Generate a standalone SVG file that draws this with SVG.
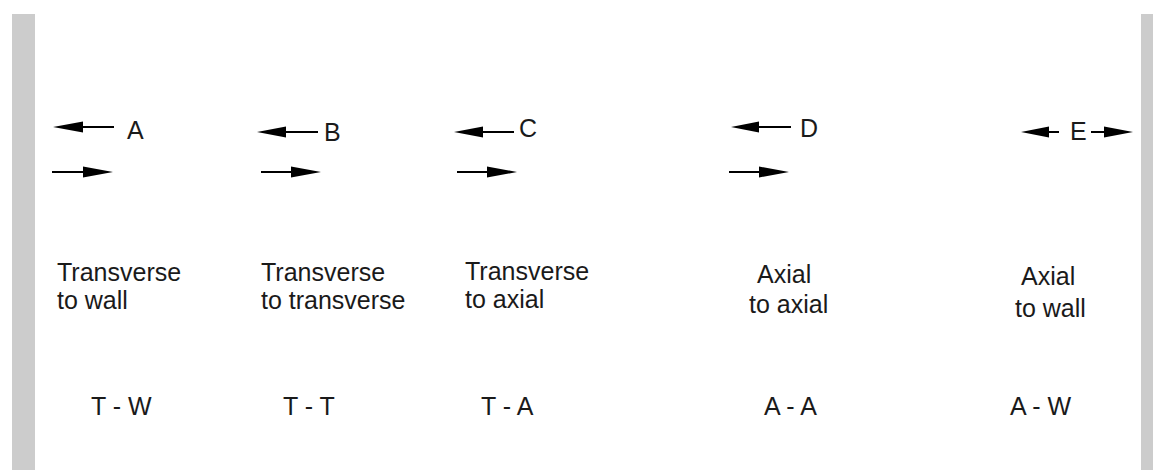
<svg xmlns="http://www.w3.org/2000/svg" width="1153" height="470" viewBox="0 0 1153 470">
<style>
.t{font-family:"Liberation Sans",Arial,sans-serif;font-size:25px;fill:#1a1a1a}
.ln{stroke:#000;stroke-width:2;fill:none}
.hd{fill:#000}
.wall{fill:#cccccc}
</style>
<rect width="1153" height="470" fill="#fff"/>
<g id="walls">
<rect class="wall" x="12" y="14" width="23" height="456"/>
<rect class="wall" x="1141" y="14" width="12" height="456"/>
</g>
<g id="connectors">
<line class="ln" x1="80" y1="127" x2="114" y2="127"/>
<polygon class="hd" points="53,127 83,121.5 83,132.5"/>
<line class="ln" x1="52" y1="172" x2="86" y2="172"/>
<polygon class="hd" points="113,172 83,166.5 83,177.5"/>
<line class="ln" x1="283" y1="132" x2="318" y2="132"/>
<polygon class="hd" points="257,132 286,126.5 286,137.5"/>
<line class="ln" x1="261" y1="172" x2="294" y2="172"/>
<polygon class="hd" points="321,172 291,166.5 291,177.5"/>
<line class="ln" x1="480" y1="132" x2="514" y2="132"/>
<polygon class="hd" points="454,132 483,126.5 483,137.5"/>
<line class="ln" x1="457" y1="172" x2="490" y2="172"/>
<polygon class="hd" points="517,172 487,166.5 487,177.5"/>
<line class="ln" x1="756" y1="127" x2="791" y2="127"/>
<polygon class="hd" points="731,127 759,121.5 759,132.5"/>
<line class="ln" x1="729" y1="172" x2="762" y2="172"/>
<polygon class="hd" points="789,172 759,166.5 759,177.5"/>
<line class="ln" x1="1046" y1="132" x2="1059" y2="132"/>
<polygon class="hd" points="1021,132 1049,126.5 1049,137.5"/>
<line class="ln" x1="1091" y1="132" x2="1107" y2="132"/>
<polygon class="hd" points="1133,132 1104,126.5 1104,137.5"/>
</g>
<g id="node-tw">
<text class="t" x="127" y="139">A</text>
<text class="t" x="57" y="281">Transverse</text>
<text class="t" x="57" y="309">to wall</text>
<text class="t" x="91" y="415">T - W</text>
</g>
<g id="node-tt">
<text class="t" x="324" y="141">B</text>
<text class="t" x="261" y="281">Transverse</text>
<text class="t" x="261" y="309">to transverse</text>
<text class="t" x="283" y="415">T - T</text>
</g>
<g id="node-ta">
<text class="t" x="519" y="137">C</text>
<text class="t" x="465" y="280">Transverse</text>
<text class="t" x="465" y="308">to axial</text>
<text class="t" x="481" y="415">T - A</text>
</g>
<g id="node-aa">
<text class="t" x="800" y="137">D</text>
<text class="t" x="757" y="283">Axial</text>
<text class="t" x="749" y="313">to axial</text>
<text class="t" x="764" y="415">A - A</text>
</g>
<g id="node-aw">
<text class="t" x="1070" y="140">E</text>
<text class="t" x="1021" y="285">Axial</text>
<text class="t" x="1015" y="317">to wall</text>
<text class="t" x="1010" y="415">A - W</text>
</g>
</svg>
